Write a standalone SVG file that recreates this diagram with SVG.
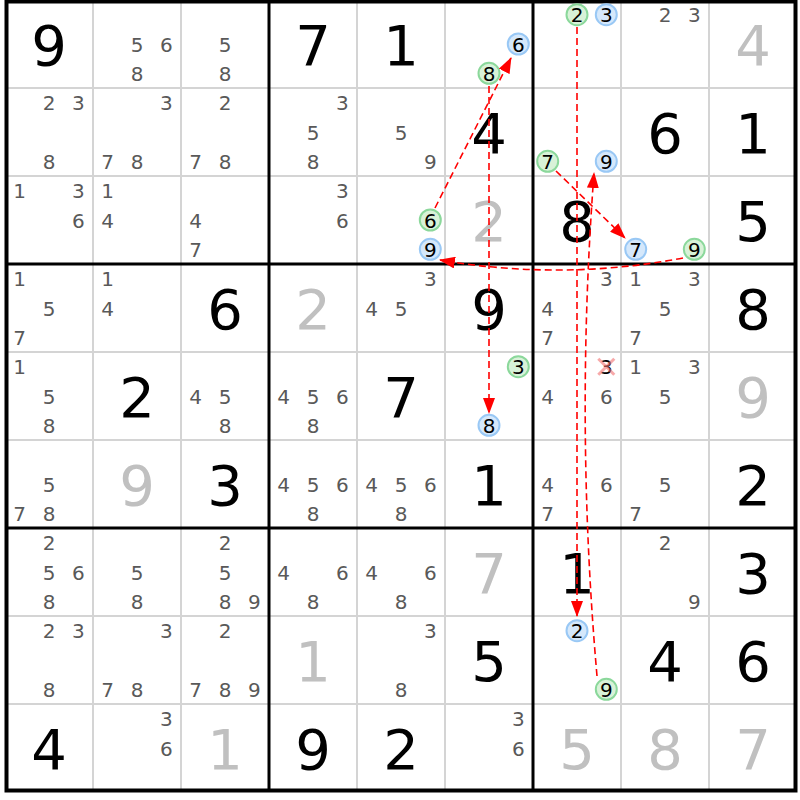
<svg xmlns="http://www.w3.org/2000/svg" width="800" height="800" viewBox="0 0 800 800">
<style>
text{font-family:"DejaVu Sans","Liberation Sans",sans-serif;text-anchor:middle}
.c{font-size:20px;fill:#595959}
.b{font-size:56px;fill:#000}
.g{font-size:56px;fill:#c0c0c0}
.k{font-size:20px;fill:#000}
.cb{fill:#d5e8fb;stroke:#99c8f5;stroke-width:2}
.cg{fill:#d8f2d8;stroke:#8bd89b;stroke-width:2}
.thin{stroke:#d4d4d4;stroke-width:2}
.thick{stroke:#000;stroke-width:3}
.arr{fill:none;stroke:#f00;stroke-width:1.6;stroke-dasharray:7 4;marker-end:url(#ah)}
</style>
<defs>
<marker id="ah" markerWidth="16" markerHeight="12" refX="15" refY="6" orient="auto" markerUnits="userSpaceOnUse">
<path d="M0,0 L16,6 L0,12 z" fill="#f00" stroke="none"/>
</marker>
</defs>
<rect x="0" y="0" width="800" height="800" fill="#fff"/>
<g id="grid">
<path class="thin" d="M93,0V792M181,0V792M357,0V792M445,0V792M621,0V792M709,0V792M5,88H797M5,176H797M5,352H797M5,440H797M5,616H797M5,704H797"/>
<path class="thick" d="M269,0V792M533,0V792M5,264H797M5,528H797"/>
<rect x="6.5" y="1.5" width="789" height="789" fill="none" stroke="#000" stroke-width="4"/>
</g>
<!-- row 0 -->
<g id="r0c0" transform="translate(5,0)"><text class="b" x="44" y="64.5">9</text></g>
<g id="r0c1" transform="translate(93,0)"><text class="c" x="44" y="51.5">5</text><text class="c" x="73.3" y="51.5">6</text><text class="c" x="44" y="80.8">8</text></g>
<g id="r0c2" transform="translate(181,0)"><text class="c" x="44" y="51.5">5</text><text class="c" x="44" y="80.8">8</text></g>
<g id="r0c3" transform="translate(269,0)"><text class="b" x="44" y="64.5">7</text></g>
<g id="r0c4" transform="translate(357,0)"><text class="b" x="44" y="64.5">1</text></g>
<g id="r0c5" transform="translate(445,0)"><circle class="cb" cx="73.3" cy="44" r="10.5"/><text class="k" x="73.3" y="51.5">6</text><circle class="cg" cx="44" cy="73.3" r="10.5"/><text class="k" x="44" y="80.8">8</text></g>
<g id="r0c6" transform="translate(533,0)"><circle class="cg" cx="44" cy="14.7" r="10.5"/><text class="k" x="44" y="22.2">2</text><circle class="cb" cx="73.3" cy="14.7" r="10.5"/><text class="k" x="73.3" y="22.2">3</text></g>
<g id="r0c7" transform="translate(621,0)"><text class="c" x="44" y="22.2">2</text><text class="c" x="73.3" y="22.2">3</text></g>
<g id="r0c8" transform="translate(709,0)"><text class="g" x="44" y="64.5">4</text></g>
<!-- row 1 -->
<g id="r1c0" transform="translate(5,88)"><text class="c" x="44" y="22.2">2</text><text class="c" x="73.3" y="22.2">3</text><text class="c" x="44" y="80.8">8</text></g>
<g id="r1c1" transform="translate(93,88)"><text class="c" x="73.3" y="22.2">3</text><text class="c" x="14.7" y="80.8">7</text><text class="c" x="44" y="80.8">8</text></g>
<g id="r1c2" transform="translate(181,88)"><text class="c" x="44" y="22.2">2</text><text class="c" x="14.7" y="80.8">7</text><text class="c" x="44" y="80.8">8</text></g>
<g id="r1c3" transform="translate(269,88)"><text class="c" x="73.3" y="22.2">3</text><text class="c" x="44" y="51.5">5</text><text class="c" x="44" y="80.8">8</text></g>
<g id="r1c4" transform="translate(357,88)"><text class="c" x="44" y="51.5">5</text><text class="c" x="73.3" y="80.8">9</text></g>
<g id="r1c5" transform="translate(445,88)"><text class="b" x="44" y="64.5">4</text></g>
<g id="r1c6" transform="translate(533,88)"><circle class="cg" cx="14.7" cy="73.3" r="10.5"/><text class="k" x="14.7" y="80.8">7</text><circle class="cb" cx="73.3" cy="73.3" r="10.5"/><text class="k" x="73.3" y="80.8">9</text></g>
<g id="r1c7" transform="translate(621,88)"><text class="b" x="44" y="64.5">6</text></g>
<g id="r1c8" transform="translate(709,88)"><text class="b" x="44" y="64.5">1</text></g>
<!-- row 2 -->
<g id="r2c0" transform="translate(5,176)"><text class="c" x="14.7" y="22.2">1</text><text class="c" x="73.3" y="22.2">3</text><text class="c" x="73.3" y="51.5">6</text></g>
<g id="r2c1" transform="translate(93,176)"><text class="c" x="14.7" y="22.2">1</text><text class="c" x="14.7" y="51.5">4</text></g>
<g id="r2c2" transform="translate(181,176)"><text class="c" x="14.7" y="51.5">4</text><text class="c" x="14.7" y="80.8">7</text></g>
<g id="r2c3" transform="translate(269,176)"><text class="c" x="73.3" y="22.2">3</text><text class="c" x="73.3" y="51.5">6</text></g>
<g id="r2c4" transform="translate(357,176)"><circle class="cg" cx="73.3" cy="44" r="10.5"/><text class="k" x="73.3" y="51.5">6</text><circle class="cb" cx="73.3" cy="73.3" r="10.5"/><text class="k" x="73.3" y="80.8">9</text></g>
<g id="r2c5" transform="translate(445,176)"><text class="g" x="44" y="64.5">2</text></g>
<g id="r2c6" transform="translate(533,176)"><text class="b" x="44" y="64.5">8</text></g>
<g id="r2c7" transform="translate(621,176)"><circle class="cb" cx="14.7" cy="73.3" r="10.5"/><text class="k" x="14.7" y="80.8">7</text><circle class="cg" cx="73.3" cy="73.3" r="10.5"/><text class="k" x="73.3" y="80.8">9</text></g>
<g id="r2c8" transform="translate(709,176)"><text class="b" x="44" y="64.5">5</text></g>
<!-- row 3 -->
<g id="r3c0" transform="translate(5,264)"><text class="c" x="14.7" y="22.2">1</text><text class="c" x="44" y="51.5">5</text><text class="c" x="14.7" y="80.8">7</text></g>
<g id="r3c1" transform="translate(93,264)"><text class="c" x="14.7" y="22.2">1</text><text class="c" x="14.7" y="51.5">4</text></g>
<g id="r3c2" transform="translate(181,264)"><text class="b" x="44" y="64.5">6</text></g>
<g id="r3c3" transform="translate(269,264)"><text class="g" x="44" y="64.5">2</text></g>
<g id="r3c4" transform="translate(357,264)"><text class="c" x="73.3" y="22.2">3</text><text class="c" x="14.7" y="51.5">4</text><text class="c" x="44" y="51.5">5</text></g>
<g id="r3c5" transform="translate(445,264)"><text class="b" x="44" y="64.5">9</text></g>
<g id="r3c6" transform="translate(533,264)"><text class="c" x="73.3" y="22.2">3</text><text class="c" x="14.7" y="51.5">4</text><text class="c" x="14.7" y="80.8">7</text></g>
<g id="r3c7" transform="translate(621,264)"><text class="c" x="14.7" y="22.2">1</text><text class="c" x="73.3" y="22.2">3</text><text class="c" x="44" y="51.5">5</text><text class="c" x="14.7" y="80.8">7</text></g>
<g id="r3c8" transform="translate(709,264)"><text class="b" x="44" y="64.5">8</text></g>
<!-- row 4 -->
<g id="r4c0" transform="translate(5,352)"><text class="c" x="14.7" y="22.2">1</text><text class="c" x="44" y="51.5">5</text><text class="c" x="44" y="80.8">8</text></g>
<g id="r4c1" transform="translate(93,352)"><text class="b" x="44" y="64.5">2</text></g>
<g id="r4c2" transform="translate(181,352)"><text class="c" x="14.7" y="51.5">4</text><text class="c" x="44" y="51.5">5</text><text class="c" x="44" y="80.8">8</text></g>
<g id="r4c3" transform="translate(269,352)"><text class="c" x="14.7" y="51.5">4</text><text class="c" x="44" y="51.5">5</text><text class="c" x="73.3" y="51.5">6</text><text class="c" x="44" y="80.8">8</text></g>
<g id="r4c4" transform="translate(357,352)"><text class="b" x="44" y="64.5">7</text></g>
<g id="r4c5" transform="translate(445,352)"><circle class="cg" cx="73.3" cy="14.7" r="10.5"/><text class="k" x="73.3" y="22.2">3</text><circle class="cb" cx="44" cy="73.3" r="10.5"/><text class="k" x="44" y="80.8">8</text></g>
<g id="r4c6" transform="translate(533,352)"><text class="k" x="73.3" y="22.2">3</text><path d="M65.3,6.7L81.3,22.7M81.3,6.7L65.3,22.7" stroke="#f26f6f" stroke-opacity="0.6" stroke-width="3"/><text class="c" x="14.7" y="51.5">4</text><text class="c" x="73.3" y="51.5">6</text></g>
<g id="r4c7" transform="translate(621,352)"><text class="c" x="14.7" y="22.2">1</text><text class="c" x="73.3" y="22.2">3</text><text class="c" x="44" y="51.5">5</text></g>
<g id="r4c8" transform="translate(709,352)"><text class="g" x="44" y="64.5">9</text></g>
<!-- row 5 -->
<g id="r5c0" transform="translate(5,440)"><text class="c" x="44" y="51.5">5</text><text class="c" x="14.7" y="80.8">7</text><text class="c" x="44" y="80.8">8</text></g>
<g id="r5c1" transform="translate(93,440)"><text class="g" x="44" y="64.5">9</text></g>
<g id="r5c2" transform="translate(181,440)"><text class="b" x="44" y="64.5">3</text></g>
<g id="r5c3" transform="translate(269,440)"><text class="c" x="14.7" y="51.5">4</text><text class="c" x="44" y="51.5">5</text><text class="c" x="73.3" y="51.5">6</text><text class="c" x="44" y="80.8">8</text></g>
<g id="r5c4" transform="translate(357,440)"><text class="c" x="14.7" y="51.5">4</text><text class="c" x="44" y="51.5">5</text><text class="c" x="73.3" y="51.5">6</text><text class="c" x="44" y="80.8">8</text></g>
<g id="r5c5" transform="translate(445,440)"><text class="b" x="44" y="64.5">1</text></g>
<g id="r5c6" transform="translate(533,440)"><text class="c" x="14.7" y="51.5">4</text><text class="c" x="73.3" y="51.5">6</text><text class="c" x="14.7" y="80.8">7</text></g>
<g id="r5c7" transform="translate(621,440)"><text class="c" x="44" y="51.5">5</text><text class="c" x="14.7" y="80.8">7</text></g>
<g id="r5c8" transform="translate(709,440)"><text class="b" x="44" y="64.5">2</text></g>
<!-- row 6 -->
<g id="r6c0" transform="translate(5,528)"><text class="c" x="44" y="22.2">2</text><text class="c" x="44" y="51.5">5</text><text class="c" x="73.3" y="51.5">6</text><text class="c" x="44" y="80.8">8</text></g>
<g id="r6c1" transform="translate(93,528)"><text class="c" x="44" y="51.5">5</text><text class="c" x="44" y="80.8">8</text></g>
<g id="r6c2" transform="translate(181,528)"><text class="c" x="44" y="22.2">2</text><text class="c" x="44" y="51.5">5</text><text class="c" x="44" y="80.8">8</text><text class="c" x="73.3" y="80.8">9</text></g>
<g id="r6c3" transform="translate(269,528)"><text class="c" x="14.7" y="51.5">4</text><text class="c" x="73.3" y="51.5">6</text><text class="c" x="44" y="80.8">8</text></g>
<g id="r6c4" transform="translate(357,528)"><text class="c" x="14.7" y="51.5">4</text><text class="c" x="73.3" y="51.5">6</text><text class="c" x="44" y="80.8">8</text></g>
<g id="r6c5" transform="translate(445,528)"><text class="g" x="44" y="64.5">7</text></g>
<g id="r6c6" transform="translate(533,528)"><text class="b" x="44" y="64.5">1</text></g>
<g id="r6c7" transform="translate(621,528)"><text class="c" x="44" y="22.2">2</text><text class="c" x="73.3" y="80.8">9</text></g>
<g id="r6c8" transform="translate(709,528)"><text class="b" x="44" y="64.5">3</text></g>
<!-- row 7 -->
<g id="r7c0" transform="translate(5,616)"><text class="c" x="44" y="22.2">2</text><text class="c" x="73.3" y="22.2">3</text><text class="c" x="44" y="80.8">8</text></g>
<g id="r7c1" transform="translate(93,616)"><text class="c" x="73.3" y="22.2">3</text><text class="c" x="14.7" y="80.8">7</text><text class="c" x="44" y="80.8">8</text></g>
<g id="r7c2" transform="translate(181,616)"><text class="c" x="44" y="22.2">2</text><text class="c" x="14.7" y="80.8">7</text><text class="c" x="44" y="80.8">8</text><text class="c" x="73.3" y="80.8">9</text></g>
<g id="r7c3" transform="translate(269,616)"><text class="g" x="44" y="64.5">1</text></g>
<g id="r7c4" transform="translate(357,616)"><text class="c" x="73.3" y="22.2">3</text><text class="c" x="44" y="80.8">8</text></g>
<g id="r7c5" transform="translate(445,616)"><text class="b" x="44" y="64.5">5</text></g>
<g id="r7c6" transform="translate(533,616)"><circle class="cb" cx="44" cy="14.7" r="10.5"/><text class="k" x="44" y="22.2">2</text><circle class="cg" cx="73.3" cy="73.3" r="10.5"/><text class="k" x="73.3" y="80.8">9</text></g>
<g id="r7c7" transform="translate(621,616)"><text class="b" x="44" y="64.5">4</text></g>
<g id="r7c8" transform="translate(709,616)"><text class="b" x="44" y="64.5">6</text></g>
<!-- row 8 -->
<g id="r8c0" transform="translate(5,704)"><text class="b" x="44" y="64.5">4</text></g>
<g id="r8c1" transform="translate(93,704)"><text class="c" x="73.3" y="22.2">3</text><text class="c" x="73.3" y="51.5">6</text></g>
<g id="r8c2" transform="translate(181,704)"><text class="g" x="44" y="64.5">1</text></g>
<g id="r8c3" transform="translate(269,704)"><text class="b" x="44" y="64.5">9</text></g>
<g id="r8c4" transform="translate(357,704)"><text class="b" x="44" y="64.5">2</text></g>
<g id="r8c5" transform="translate(445,704)"><text class="c" x="73.3" y="22.2">3</text><text class="c" x="73.3" y="51.5">6</text></g>
<g id="r8c6" transform="translate(533,704)"><text class="g" x="44" y="64.5">5</text></g>
<g id="r8c7" transform="translate(621,704)"><text class="g" x="44" y="64.5">8</text></g>
<g id="r8c8" transform="translate(709,704)"><text class="g" x="44" y="64.5">7</text></g>
<g id="connectors">
<path class="arr" d="M435,208 L511,58"/>
<path class="arr" d="M489,86 L489,413"/>
<path class="arr" d="M577,27 L577,616"/>
<path class="arr" d="M556,171 L625,238"/>
<path class="arr" d="M683,258 Q562,281 440,260"/>
<path class="arr" d="M597,676 Q575,425 594,173"/>
</g>
</svg>
